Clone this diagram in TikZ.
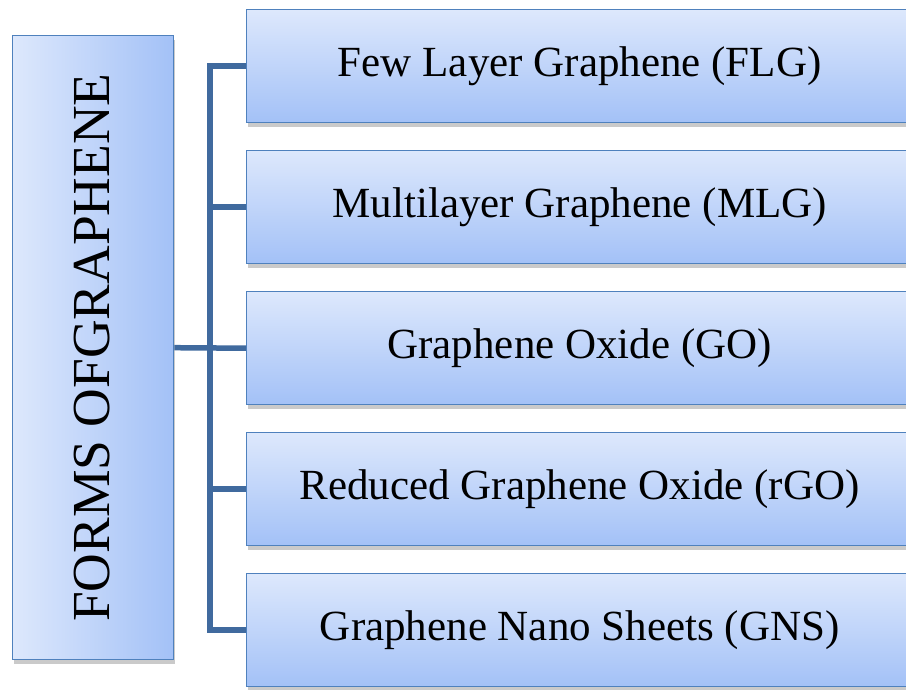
\documentclass[tikz,border=0pt]{standalone}
\usepackage{fontspec}
\setmainfont{Liberation Serif}
\usetikzlibrary{shadows}
\definecolor{boxlight}{HTML}{DDE8FC}
\definecolor{boxdark}{HTML}{A3C1F7}
\definecolor{boxline}{HTML}{4F81BD}
\definecolor{conn}{HTML}{406A9E}
\tikzset{
  formbox/.style={draw=boxline, line width=1.4pt, top color=boxlight, bottom color=boxdark,
    minimum width=660pt, minimum height=113pt, inner sep=0pt, anchor=north west,
    drop shadow={shadow xshift=1pt, shadow yshift=-4pt, opacity=0.35, fill=black!60}},
  mainbox/.style={draw=boxline, line width=1.4pt, left color=boxlight, right color=boxdark,
    minimum width=161pt, minimum height=624pt, inner sep=0pt, anchor=north west,
    drop shadow={shadow xshift=1pt, shadow yshift=-4pt, opacity=0.35, fill=black!60}},
  formtext/.style={font=\fontsize{43}{48}\selectfont},
  link/.style={draw=conn, line width=5.5pt}
}
\begin{document}
\begin{tikzpicture}[x=1pt,y=-1pt]
\useasboundingbox (0,0) rectangle (906,689);
\node[mainbox] (main) at (12,35) {};
\node[rotate=90, font=\fontsize{53.5}{58}\selectfont] (maintxt) at ([xshift=-1pt]main.center) {FORMS OFGRAPHENE};
\node[formbox] (b1) at (246,9) {};
\node[formbox] (b2) at (246,150) {};
\node[formbox] (b3) at (246,291) {};
\node[formbox] (b4) at (246,432) {};
\node[formbox] (b5) at (246,573) {};
\node[formtext] (t1) at ([xshift=3pt]b1.center) {Few Layer Graphene (FLG)};
\node[formtext] (t2) at ([xshift=3pt]b2.center) {Multilayer Graphene (MLG)};
\node[formtext] (t3) at ([xshift=3pt]b3.center) {Graphene Oxide (GO)};
\node[formtext] (t4) at ([xshift=3pt]b4.center) {Reduced Graphene Oxide (rGO)};
\node[formtext] (t5) at ([xshift=3pt]b5.center) {Graphene Nano Sheets (GNS)};
\coordinate (spine) at (210,0);
\draw[link] (main.east) -- (b3.west);
\draw[link, line join=miter] (b1.west) -| (spine |- b5.west) -- (b5.west);
\draw[link] (spine |- b2.west) -- (b2.west);
\draw[link] (spine |- b4.west) -- (b4.west);
\end{tikzpicture}
\end{document}
